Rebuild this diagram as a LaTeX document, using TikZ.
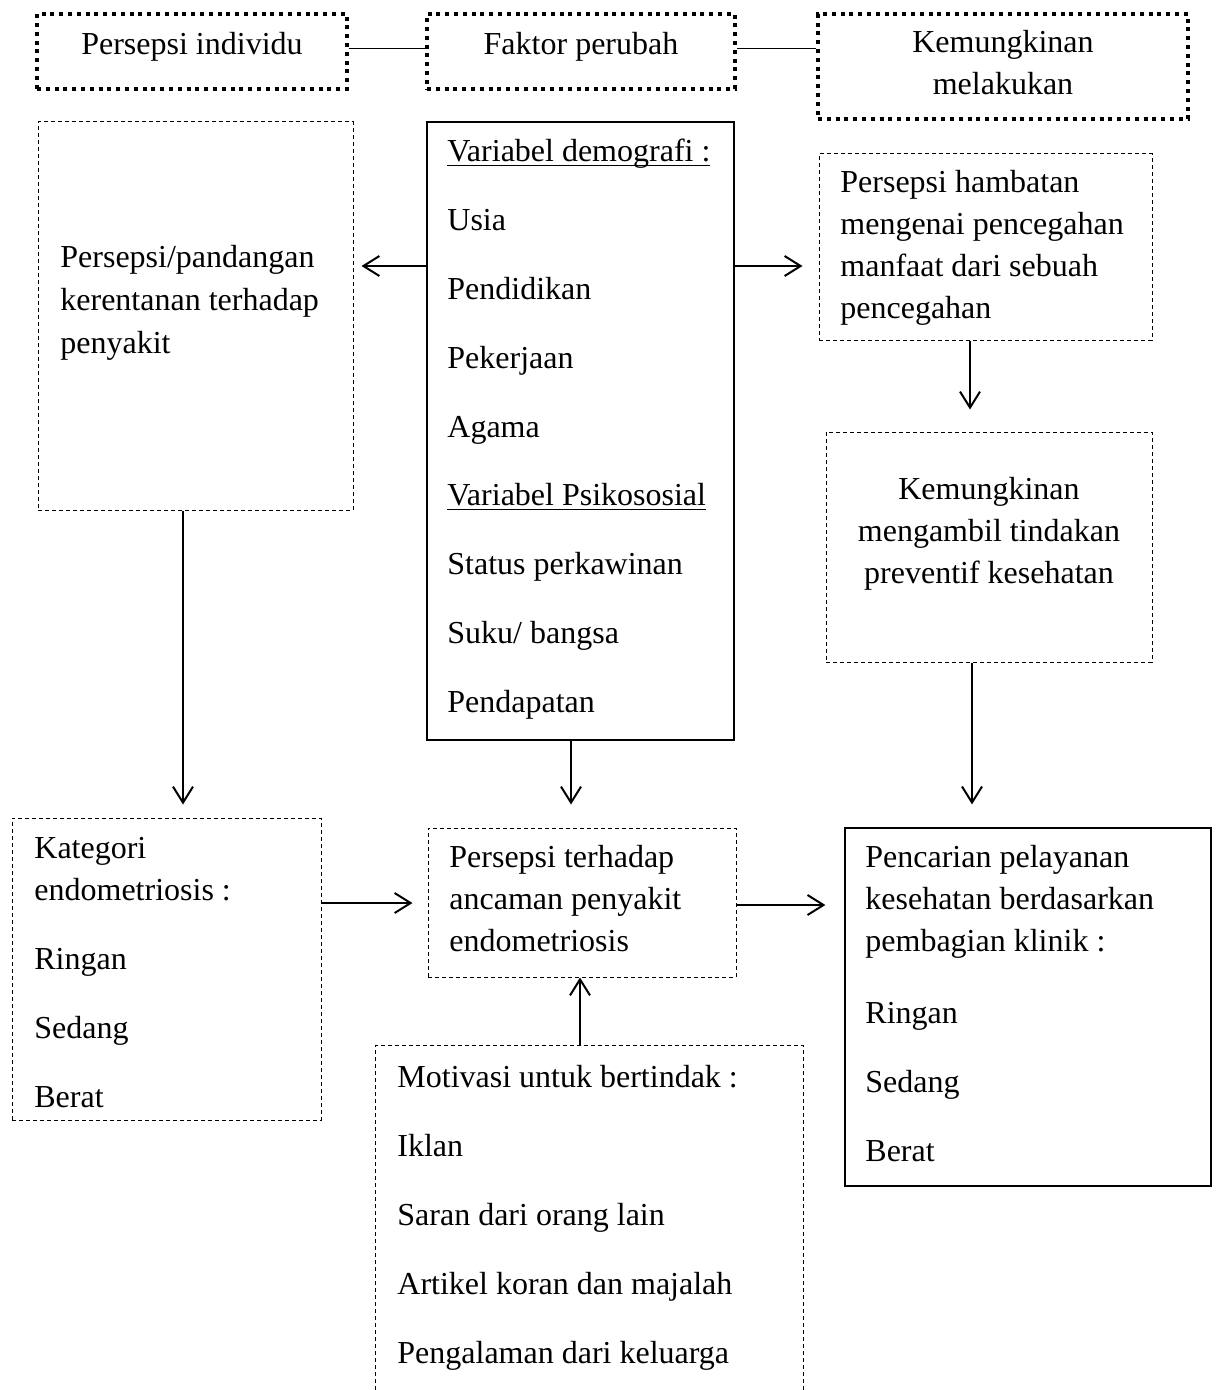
\documentclass[tikz,border=0pt]{standalone}
\usepackage{fontspec}
\setmainfont{Liberation Serif}
\usetikzlibrary{arrows.meta,fit}
\newcommand\mylines[1]{\begin{tabular}[t]{@{}l@{}}#1\end{tabular}}
\newcommand\mycent[1]{\begin{tabular}[t]{@{}c@{}}#1\end{tabular}}
\newcommand\myul[1]{\setbox0\hbox{#1}\rlap{\rule[-2.2pt]{\wd0}{0.9pt}}\box0}
\begin{document}
\begin{tikzpicture}[x=0.5pt,y=-0.5pt,
  topbox/.style={draw, line width=2pt, dash pattern=on 2pt off 2.4pt, inner sep=0pt},
  dbox/.style={draw, line width=0.5pt, dash pattern=on 2pt off 1.5pt, inner sep=0pt},
  sbox/.style={draw, line width=0.6pt, inner sep=0pt},
  hidbox/.style={inner sep=0pt},
  txt/.style={font=\fontsize{16}{21}\selectfont, inner sep=0pt, anchor=base west},
  ctxt/.style={font=\fontsize{16}{21}\selectfont, inner sep=0pt, anchor=base},
  link/.style={line width=0.5pt},
  arr/.style={line width=1pt, -{Straight Barb[length=8pt,width=10pt,line width=1pt]}}
]
\useasboundingbox (0,0) rectangle (1217,1390);

% top header boxes
\node[topbox, fit={(37,14) (347,89)}] (h1) {};
\node[topbox, fit={(427,14) (735,89)}] (h2) {};
\node[topbox, fit={(818,14) (1188,119)}] (h3) {};
\node[ctxt] (h1t) at (192,55) {Persepsi individu};
\node[ctxt] (h2t) at (581,55) {Faktor perubah};
\node[ctxt] (h3t) at (1003,53) {\mycent{Kemungkinan\\melakukan}};
\coordinate (lvH) at (0,49);
\draw[link] (h1.east |- lvH) -- (h2.west |- lvH);
\draw[link] (h2.east |- lvH) -- (h3.west |- lvH);

% main boxes
\node[dbox, fit={(38,122) (353,510)}] (b1) {};
\node[txt] (b1t) at (60,268) {\mylines{Persepsi/pandangan\\[0.5pt]kerentanan terhadap\\[0.5pt]penyakit}};

\node[sbox, fit={(427,122) (734,740)}] (b2) {};
\node[txt] (b2t) at (447,162) {\mylines{\myul{Variabel demografi :}\\[13.4pt]Usia\\[13.4pt]Pendidikan\\[13.4pt]Pekerjaan\\[13.4pt]Agama\\[13.4pt]\myul{Variabel Psikososial}\\[13.4pt]Status perkawinan\\[13.4pt]Suku/ bangsa\\[13.4pt]Pendapatan}};

\node[dbox, fit={(819,154) (1152,340)}] (b3) {};
\node[txt] (b3t) at (840,193) {\mylines{Persepsi hambatan\\mengenai pencegahan\\manfaat dari sebuah\\pencegahan}};

\node[dbox, fit={(826,432) (1152,662)}] (b4) {};
\node[ctxt] (b4t) at (989,499) {\mycent{Kemungkinan\\mengambil tindakan\\preventif kesehatan}};

\node[dbox, fit={(12,818) (321,1120)}] (b5) {};
\node[txt] (b5t) at (34,858) {\mylines{Kategori\\endometriosis :\\[13.5pt]Ringan\\[13.5pt]Sedang\\[13.5pt]Berat}};

\node[dbox, fit={(428,828) (736,977)}] (b6) {};
\node[txt] (b6t) at (449,867) {\mylines{Persepsi terhadap\\ancaman penyakit\\endometriosis}};

\node[sbox, fit={(845,828) (1211,1186)}] (b7) {};
\node[txt] (b7t) at (865,867) {\mylines{Pencarian pelayanan\\kesehatan berdasarkan\\pembagian klinik :\\[15pt]Ringan\\[13.5pt]Sedang\\[13.5pt]Berat}};

\node[hidbox, fit={(376,1046) (803,1390)}] (b8) {};
\draw[line width=0.5pt, dash pattern=on 2pt off 1.5pt] (b8.south west) -- (b8.north west) -- (b8.north east) -- (b8.south east);
\node[txt] (b8t) at (397,1087) {\mylines{Motivasi untuk bertindak :\\[13.5pt]Iklan\\[13.5pt]Saran dari orang lain\\[13.5pt]Artikel koran dan majalah\\[13.5pt]Pengalaman dari keluarga}};

% arrows
\coordinate (lvA) at (0,266);
\coordinate (lvB) at (0,903);
\coordinate (lvC) at (0,905);
\coordinate (xA) at (970,0);
\coordinate (xB) at (183,0);
\coordinate (xC) at (571,0);
\coordinate (xD) at (972,0);
\coordinate (xE) at (580,0);
\draw[arr, shorten >=4pt] (b2.west |- lvA) -- (b1.east |- lvA);
\draw[arr, shorten >=8pt] (b2.east |- lvA) -- (b3.west |- lvA);
\draw[arr, shorten >=11pt] (b3.south -| xA) -- (b4.north -| xA);
\draw[arr, shorten >=6.5pt] (b1.south -| xB) -- (b5.north -| xB);
\draw[arr, shorten >=11.5pt] (b2.south -| xC) -- (b6.north -| xC);
\draw[arr, shorten >=11.5pt] (b4.south -| xD) -- (b7.north -| xD);
\draw[arr, shorten >=7.5pt] (b5.east |- lvB) -- (b6.west |- lvB);
\draw[arr, shorten >=9.5pt] (b6.east |- lvC) -- (b7.west |- lvC);
\draw[arr] (b8.north -| xE) -- (b6.south -| xE);
\end{tikzpicture}
\end{document}
